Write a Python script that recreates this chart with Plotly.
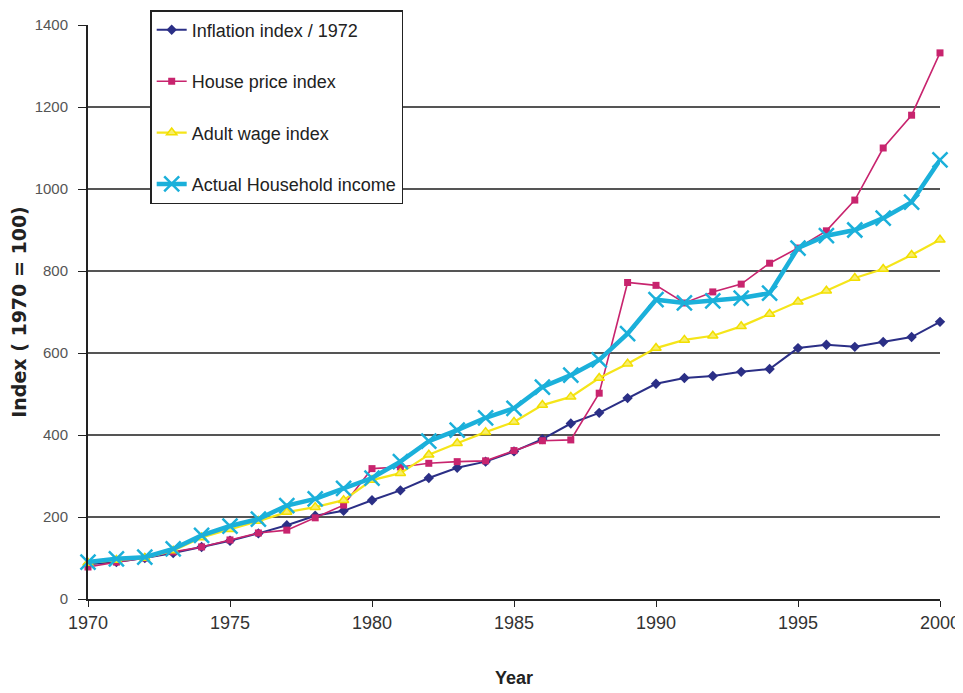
import plotly.graph_objects as go

years = list(range(1970, 2001))

inflation = [85, 90, 100, 112, 127, 142, 160, 180, 203, 215, 241,
             265, 295, 320, 335, 360, 390, 428, 454, 490, 525,
             539, 544, 554, 561, 612, 620, 615, 627, 639, 676]

house_price = [78, 90, 100, 115, 127, 144, 161, 168, 198, 229, 318,
               322, 331, 335, 337, 362, 386, 388, 502, 772, 765,
               722, 749, 768, 819, 856, 898, 973, 1100, 1180, 1332]

adult_wage = [88, 95, 100, 118, 150, 170, 190, 212, 224, 241, 290,
              307, 352, 380, 407, 432, 473, 493, 539, 574, 612,
              632, 642, 665, 695, 725, 752, 783, 805, 839, 876]

household = [90, 98, 102, 122, 155, 178, 195, 228, 244, 270, 295,
             335, 385, 412, 442, 465, 517, 546, 583, 647, 730,
             722, 727, 734, 746, 856, 886, 900, 929, 968, 1071]

x_ticks = [1970, 1975, 1980, 1985, 1990, 1995, 2000]
y_ticks = [0, 200, 400, 600, 800, 1000, 1200, 1400]

names = ["Inflation index / 1972", "House price index",
         "Adult wage index", "Actual Household income"]

fig = go.Figure()

fig.add_trace(go.Scatter(
    x=years, y=inflation, name=names[0], mode="lines+markers",
    line=dict(color="#2B2F86", width=2),
    marker=dict(symbol="diamond", size=8, color="#2B2F86"),
    legendgroup="a", cliponaxis=False))
fig.add_trace(go.Scatter(
    x=years, y=house_price, name=names[1], mode="lines+markers",
    line=dict(color="#C8246E", width=1.6),
    marker=dict(symbol="square", size=7, color="#C8246E"),
    legendgroup="b", cliponaxis=False))
fig.add_trace(go.Scatter(
    x=years, y=adult_wage, name=names[2], mode="lines+markers",
    line=dict(color="#F5E51A", width=2.2),
    marker=dict(symbol="triangle-up", size=9, color="#F8EE6A",
                line=dict(color="#F2DF00", width=1.5)),
    legendgroup="c", cliponaxis=False))
fig.add_trace(go.Scatter(
    x=years, y=household, name=names[3], mode="lines+markers",
    line=dict(color="#1BB0DA", width=4.5),
    marker=dict(symbol="x-thin", size=15, color="#1BB0DA",
                line=dict(color="#1BB0DA", width=2.5)),
    legendgroup="d", cliponaxis=False))

fig.update_layout(
    width=955, height=685,
    margin=dict(l=80, r=23, t=17, b=94, autoexpand=False),
    paper_bgcolor="white", plot_bgcolor="white",
    font=dict(family="Liberation Sans, Arial, sans-serif", color="#222"),
    showlegend=True,
    legend=dict(
        x=0.073, y=1.026, xanchor="left", yanchor="top",
        bgcolor="white", bordercolor="#222", borderwidth=1.5,
        font=dict(size=18, color="#222"),
        tracegroupgap=25, traceorder="grouped",
        itemwidth=30,
    ),
    xaxis=dict(
        range=[1970, 2000], tickvals=x_ticks, showgrid=False,
        showline=True, linecolor="#222", linewidth=2,
        ticks="outside", ticklen=6, tickcolor="#222", tickwidth=1,
        tickfont=dict(size=18, color="#333"),
        title=dict(text="<b>Year</b>", font=dict(size=18, color="#222"),
                   standoff=40),
        zeroline=False,
    ),
    yaxis=dict(
        range=[0, 1400], tickvals=y_ticks, showgrid=True,
        gridcolor="#555", gridwidth=2,
        showline=True, linecolor="#222", linewidth=2,
        ticks="outside", ticklen=8, tickcolor="#222", tickwidth=1,
        ticklabelstandoff=7,
        tickfont=dict(size=15, color="#555"),
        title=dict(text="<b>Index ( 1970 = 100)</b>",
                   font=dict(family="DejaVu Sans, sans-serif", size=19,
                             color="#222"), standoff=9),
        zeroline=False,
    ),
)

fig.write_html("out.html")
